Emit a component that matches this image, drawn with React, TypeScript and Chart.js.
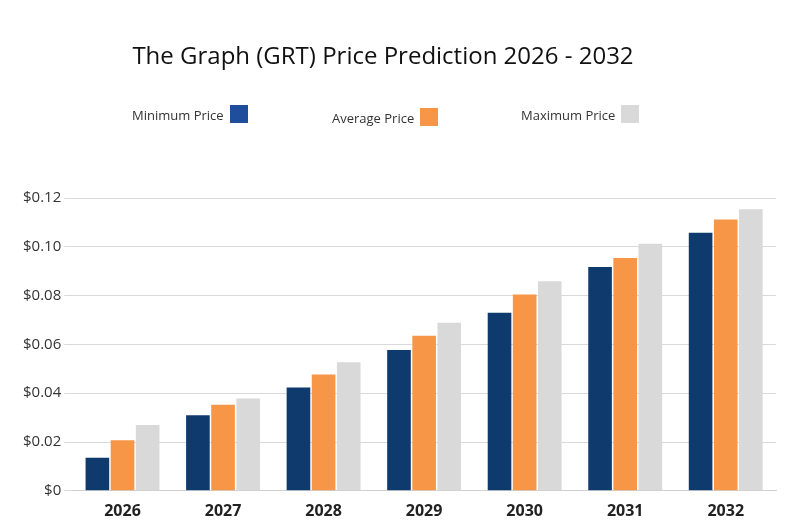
import { useEffect, useRef } from "react";
import { Chart, registerables } from "chart.js";

Chart.register(...registerables);

const years = ["2026", "2027", "2028", "2029", "2030", "2031", "2032"];
const minPrice = [0.0135, 0.031, 0.0423, 0.0577, 0.073, 0.0917, 0.1058];
const avgPrice = [0.0207, 0.0353, 0.0477, 0.0635, 0.0805, 0.0954, 0.1112];
const maxPrice = [0.027, 0.0378, 0.0527, 0.0689, 0.0859, 0.1012, 0.1154];

const FONT = "'Open Sans', 'Noto Sans', sans-serif";

const legend = [
  { label: "Minimum Price", color: "#1f4f9c", left: 132, top: 105 },
  { label: "Average Price", color: "#f79646", left: 332, top: 108 },
  { label: "Maximum Price", color: "#d9d9d9", left: 521, top: 105 },
];

export default function App() {
  const canvasRef = useRef<HTMLCanvasElement | null>(null);

  useEffect(() => {
    document.body.style.margin = "0";
    const el = canvasRef.current;
    if (!el) return;
    const chart = new Chart(el, {
      type: "bar",
      data: {
        labels: years,
        datasets: [
          { label: "Minimum Price", data: minPrice, backgroundColor: "#0e3a6e" },
          { label: "Average Price", data: avgPrice, backgroundColor: "#f79646" },
          { label: "Maximum Price", data: maxPrice, backgroundColor: "#d9d9d9" },
        ],
      },
      options: {
        animation: false,
        responsive: false,
        layout: { padding: { top: 198, right: 24, left: 20, bottom: 0 } },
        plugins: { legend: { display: false }, tooltip: { enabled: false } },
        datasets: { bar: { categoryPercentage: 0.75, barPercentage: 0.94 } },
        scales: {
          x: {
            grid: { display: false },
            border: { color: "#d0d0d0" },
            ticks: { color: "#222", font: { family: FONT, size: 16, weight: "bold" } },
          },
          y: {
            min: 0,
            max: 0.12,
            ticks: {
              stepSize: 0.02,
              color: "#333",
              padding: 3,
              font: { family: FONT, size: 15 },
              callback: (v: string | number) => {
                const n = Number(v);
                return n === 0 ? "$0" : `$${n.toFixed(2)}`;
              },
            },
            grid: { color: "#d9d9d9" },
            border: { display: false },
          },
        },
      },
    });
    return () => chart.destroy();
  }, []);

  return (
    <div style={{ position: "relative", width: 800, height: 524, background: "#fff", fontFamily: FONT }}>
      <canvas ref={canvasRef} width={800} height={524} style={{ position: "absolute", left: 0, top: 0 }} />
      <div style={{ position: "absolute", left: 0, width: 766, top: 38, textAlign: "center", fontSize: 24, color: "#111" }}>
        The Graph (GRT) Price Prediction 2026 - 2032
      </div>
      {legend.map((l) => (
        <div key={l.label} style={{ position: "absolute", left: l.left, top: l.top, display: "flex", alignItems: "flex-end", gap: 6 }}>
          <span style={{ fontSize: 13, color: "#333", lineHeight: "16px" }}>{l.label}</span>
          <span style={{ width: 18, height: 18, background: l.color, display: "inline-block" }} />
        </div>
      ))}
    </div>
  );
}
